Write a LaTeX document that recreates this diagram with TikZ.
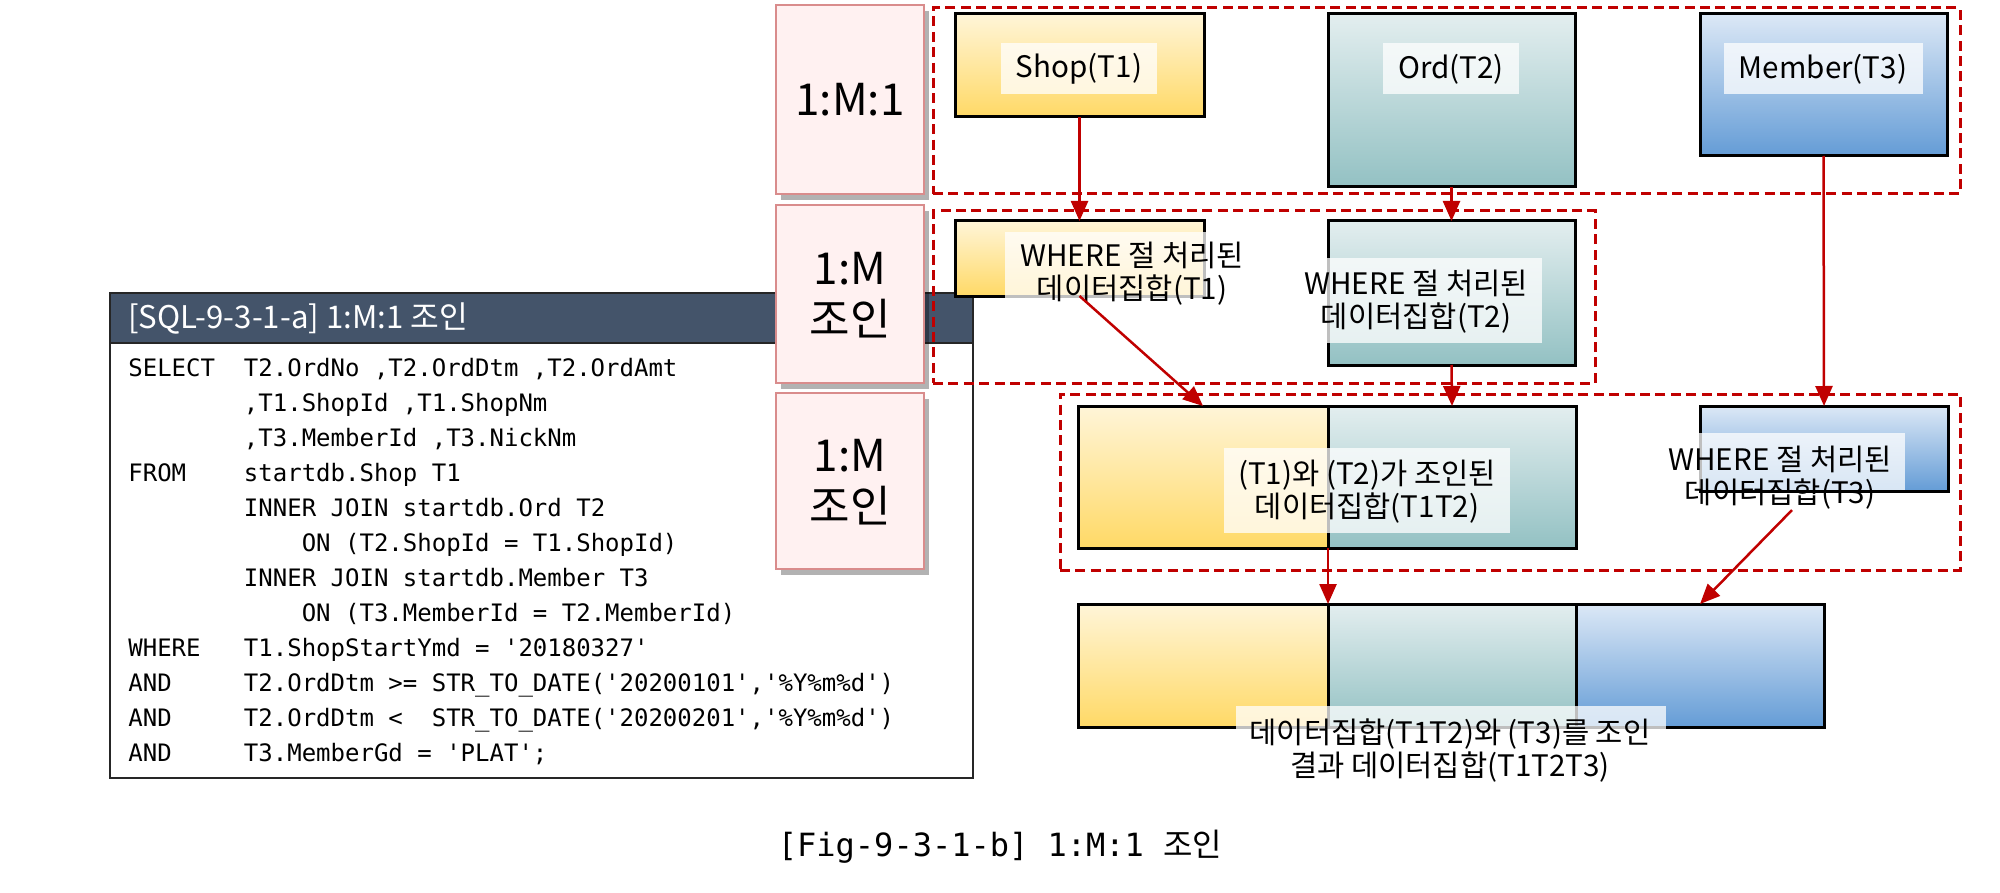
\documentclass[tikz,border=0pt]{standalone}
\usepackage{fontspec}
\usetikzlibrary{fit,shadows,arrows.meta}
\newfontfamily\kr{Noto Sans CJK KR}
\newfontfamily\codefont{DejaVu Sans Mono}
\definecolor{dred}{HTML}{C00000}
\definecolor{pinkfill}{HTML}{FFF1F1}
\definecolor{pinkline}{HTML}{D98C8C}
\definecolor{hdr}{HTML}{44546A}
\definecolor{shopT}{HTML}{FFF5D8}
\definecolor{shopB}{HTML}{FFD966}
\definecolor{ordT}{HTML}{E3EEEF}
\definecolor{ordB}{HTML}{93C1C3}
\definecolor{memT}{HTML}{DCE8F6}
\definecolor{memB}{HTML}{649CD6}
\begin{document}
\begin{tikzpicture}[x=0.5pt,y=-0.5pt,
  box/.style={inner sep=0pt, outer sep=0pt},
  pinkbox/.style={box, draw=pinkline, line width=1.3pt, fill=pinkfill,
    drop shadow={shadow xshift=2.5pt, shadow yshift=-3pt, opacity=0.3, fill=black}},
  pinktxt/.style={inner sep=0pt, font=\kr\fontsize{22}{25.5}\selectfont, align=center},
  dbox/.style={box, draw=dred, line width=1.5pt, dash pattern=on 5pt off 2.7pt},
  tbl/.style={box, draw=black, line width=1.5pt},
  shopc/.style={top color=shopT, bottom color=shopB},
  ordc/.style={top color=ordT, bottom color=ordB},
  memc/.style={top color=memT, bottom color=memB},
  lbl/.style={font=\kr\fontsize{14.8}{16.5}\selectfont, align=center, inner sep=0pt},
  lblbg/.style={box, fill=white, fill opacity=0.75},
  arr/.style={draw=dred, line width=1.25pt, -{Triangle[width=8.5pt,length=10pt]}},
]
\useasboundingbox (0,0) rectangle (2000,893);

% SQL box
\node[box, draw=black!85, line width=1pt, fill=white, fit={(110,293) (973,778)}] (sql) {};
\node[box, draw=black!85, line width=1pt, fill=hdr, fit={(110,293) (973,343)}] (sqlhdr) {};
\node[anchor=west, inner sep=0pt, text=white, font=\kr\fontsize{15.6}{18}\selectfont] (sqltitle) at (128,318) {[SQL-9-3-1-a] 1:M:1 조인};
\node[anchor=north west, inner sep=0pt, align=left, font=\codefont\fontsize{12}{17.5}\selectfont] (code) at (128,351.5) {%
\strut SELECT\hphantom{xx}T2.OrdNo ,T2.OrdDtm ,T2.OrdAmt\\
\hphantom{xxxxxxxx},T1.ShopId ,T1.ShopNm\\
\hphantom{xxxxxxxx},T3.MemberId ,T3.NickNm\\
FROM\hphantom{xxxx}startdb.Shop T1\\
\hphantom{xxxxxxxx}INNER JOIN startdb.Ord T2\\
\hphantom{xxxxxxxxxxxx}ON (T2.ShopId = T1.ShopId)\\
\hphantom{xxxxxxxx}INNER JOIN startdb.Member T3\\
\hphantom{xxxxxxxxxxxx}ON (T3.MemberId = T2.MemberId)\\
WHERE\hphantom{xxx}T1.ShopStartYmd = '20180327'\\
AND\hphantom{xxxxx}T2.OrdDtm >= STR\_TO\_DATE('20200101','\%Y\%m\%d')\\
AND\hphantom{xxxxx}T2.OrdDtm <~ STR\_TO\_DATE('20200201','\%Y\%m\%d')\\
AND\hphantom{xxxxx}T3.MemberGd = 'PLAT';};

% pink step labels
\node[pinkbox, fit={(776,5) (924,194)}] (lab1) {};
\node[pinkbox, fit={(776,205) (924,383)}] (lab2) {};
\node[pinkbox, fit={(776,393) (924,569)}] (lab3) {};
\node[pinktxt] (lab1t) at (lab1.center) {1:M:1};
\node[pinktxt] (lab2t) at (850,295) {1:M\\조인};
\node[pinktxt] (lab3t) at (850,482) {1:M\\조인};

% dashed groups
\node[dbox, fit={(933,8) (1960,194)}] (g1) {};
\node[dbox, fit={(933,211) (1595,383)}] (g2) {};
\node[dbox, fit={(1060,394) (1960,570)}] (g3) {};

% tables
\node[tbl, shopc, fit={(955,14) (1204,117)}] (shop) {};
\node[tbl, ordc, fit={(1328,14) (1575,187)}] (ord) {};
\node[tbl, memc, fit={(1700,14) (1947,156)}] (mem) {};
\node[tbl, shopc, fit={(955,221) (1204,296)}] (t1f) {};
\node[tbl, ordc, fit={(1328,221) (1575,365)}] (t2f) {};
\node[tbl, shopc, fit={(1078,406) (1328,548)}] (j1) {};
\node[tbl, ordc, fit={(1328,406) (1576,548)}] (j2) {};
\node[tbl, memc, fit={(1700,406) (1948,491)}] (t3f) {};
\node[tbl, shopc, fit={(1078,604) (1328,727)}] (f1) {};
\node[tbl, ordc, fit={(1328,604) (1576,727)}] (f2) {};
\node[tbl, memc, fit={(1576,604) (1824,727)}] (f3) {};

% label backgrounds
\node[lblbg, fit={(1001,43) (1157,94)}] (shopbg) {};
\node[lblbg, fit={(1383,43) (1519,94)}] (ordbg) {};
\node[lblbg, fit={(1724,43) (1923,94)}] (membg) {};
\node[lblbg, fit={(1005,232) (1260,298)}] (t1bg) {};
\node[lblbg, fit={(1325,258) (1542,343)}] (t2bg) {};
\node[lblbg, fit={(1224,448) (1510,533)}] (jbg) {};
\node[lblbg, fit={(1698,433) (1905,490)}] (t3bg) {};
\node[lblbg, fit={(1236,706) (1666,790)}] (fbg) {};

% label texts
\node[lbl] (shopL) at (1079,69) {Shop(T1)};
\node[lbl] (ordL) at (1451,69) {Ord(T2)};
\node[lbl] (memL) at (1823,69) {Member(T3)};
\node[lbl] (t1txt) at (1132,274) {WHERE 절 처리된\\데이터집합(T1)};
\node[lbl] (t2txt) at (1416,302) {WHERE 절 처리된\\데이터집합(T2)};
\node[lbl] (jL) at (1367,492) {(T1)와 (T2)가 조인된\\데이터집합(T1T2)};
\node[lbl] (t3txt) at (1780,478) {WHERE 절 처리된\\데이터집합(T3)};
\node[lbl] (fL) at (1450,751) {데이터집합(T1T2)와 (T3)를 조인\\결과 데이터집합(T1T2T3)};

% arrows
\draw[arr] (shop.south) -- (t1f.north);
\draw[arr] (ord.south) -- (t2f.north);
\draw[arr] (mem.south) -- (t3f.north);
\draw[arr] (t1f.south) -- (j1.north);
\draw[arr] (t2f.south) -- (j2.north);
\draw[arr] (j1.south east) -- (f1.north east);
\draw[arr] ([xshift=6pt]t3txt.south) -- (f3.north);

% caption
\node[inner sep=0pt, font=\fontsize{16}{18}\selectfont] (cap) at (1000,847) {{\codefont [Fig-9-3-1-b] 1:M:1 }{\kr 조인}};
\end{tikzpicture}
\end{document}
